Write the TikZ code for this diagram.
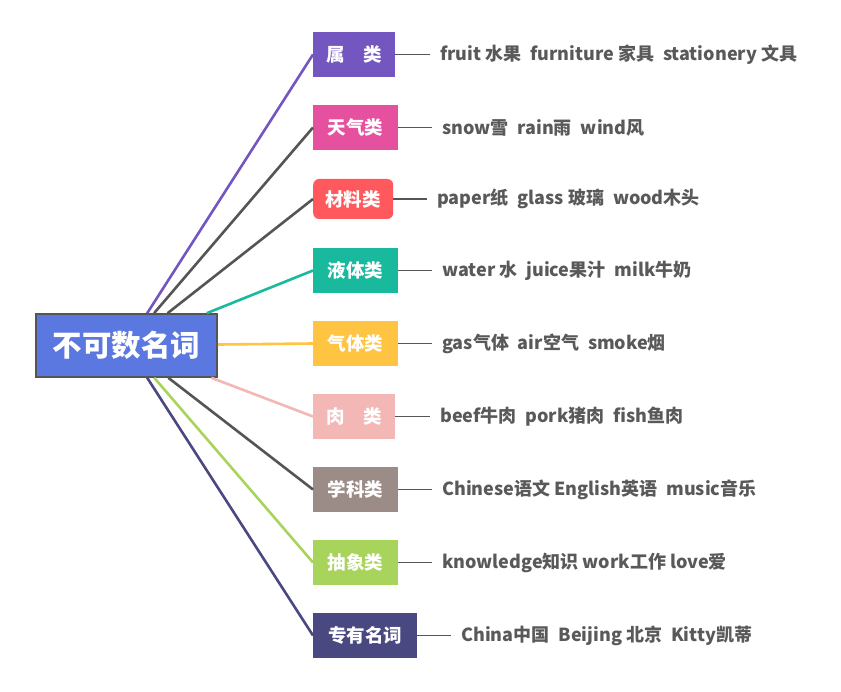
\documentclass[tikz,border=0pt]{standalone}
\usepackage{fontspec}
\setmainfont{Noto Sans CJK SC}
\definecolor{rootc}{HTML}{5B78E0}
\definecolor{txt}{HTML}{595959}
\definecolor{dk}{HTML}{555555}
\definecolor{c1}{HTML}{7356C0}
\definecolor{c2}{HTML}{E5509F}
\definecolor{c3}{HTML}{FF585D}
\definecolor{c4}{HTML}{19B99E}
\definecolor{c5}{HTML}{FFC441}
\definecolor{c6}{HTML}{F3B7B5}
\definecolor{c7}{HTML}{9C8C87}
\definecolor{c8}{HTML}{A9D45B}
\definecolor{c9}{HTML}{4A4880}
\begin{document}
\begin{tikzpicture}[x=1pt,y=-1pt,
  rootbox/.style={draw=dk,line width=1.6pt,fill=rootc,text=white,minimum width=181pt,minimum height=63pt,inner sep=0pt,font=\bfseries\fontsize{29.5}{30}\selectfont},
  catbox/.style={anchor=west,minimum height=45pt,inner sep=0pt,text=white,font=\bfseries\fontsize{18.5}{19}\selectfont},
  itemtext/.style={anchor=west,inner xsep=10pt,inner ysep=0pt,text=txt,font=\bfseries\fontsize{18}{18}\selectfont},
  link/.style={line width=2.6pt},
  short/.style={draw=dk,line width=1.8pt}]
\useasboundingbox[fill=white] (0,0) rectangle (841,692);
\node[rootbox] (r) at (126.5,345.5) {不可数名词};
\node[catbox,fill=c1,minimum width=82pt] (k1) at (313,54.5) {属\quad 类};
\node[catbox,fill=c2,minimum width=85pt] (k2) at (313,127.5) {天气类};
\node[catbox,fill=c3,minimum width=80pt,minimum height=40pt,rounded corners=6pt] (k3) at (313,199) {材料类};
\node[catbox,fill=c4,minimum width=85pt] (k4) at (313,270.5) {液体类};
\node[catbox,fill=c5,minimum width=85pt] (k5) at (313,343.5) {气体类};
\node[catbox,fill=c6,minimum width=82pt] (k6) at (313,416.5) {肉\quad 类};
\node[catbox,fill=c7,minimum width=85pt] (k7) at (313,489.5) {学科类};
\node[catbox,fill=c8,minimum width=85pt] (k8) at (313,562.5) {抽象类};
\node[catbox,fill=c9,minimum width=104pt] (k9) at (313,635.5) {专有名词};
\node[itemtext] (t1) at (430,54.5) {fruit 水果\enspace furniture 家具\enspace stationery 文具};
\node[itemtext] (t2) at (432,127.5) {snow雪\enspace rain雨\enspace wind风};
\node[itemtext] (t3) at (427,199) {paper纸\enspace glass 玻璃\enspace wood木头};
\node[itemtext] (t4) at (432,270.5) {water 水\enspace juice果汁\enspace milk牛奶};
\node[itemtext] (t5) at (432,343.5) {gas气体\enspace air空气\enspace smoke烟};
\node[itemtext] (t6) at (430,416.5) {beef牛肉\enspace pork猪肉\enspace fish鱼肉};
\node[itemtext] (t7) at (432,489.5) {Chinese语文 English英语\enspace music音乐};
\node[itemtext] (t8) at (432,562.5) {knowledge知识 work工作 love爱};
\node[itemtext] (t9) at (451,635.5) {China中国\enspace Beijing 北京\enspace Kitty凯蒂};
\draw[link,draw=c1] (r) -- (k1.west);
\draw[link,draw=dk] (r) -- (k2.west);
\draw[link,draw=dk] (r) -- (k3.west);
\draw[link,draw=c4] (r) -- (k4.west);
\draw[link,draw=c5] (r) -- (k5.west);
\draw[link,draw=c6] (r) -- (k6.west);
\draw[link,draw=dk] (r) -- (k7.west);
\draw[link,draw=c8] (r) -- (k8.west);
\draw[link,draw=c9] (r) -- (k9.west);
\foreach \i in {1,...,9} {\draw[short] (k\i.east) -- (t\i.west);}
\end{tikzpicture}
\end{document}
